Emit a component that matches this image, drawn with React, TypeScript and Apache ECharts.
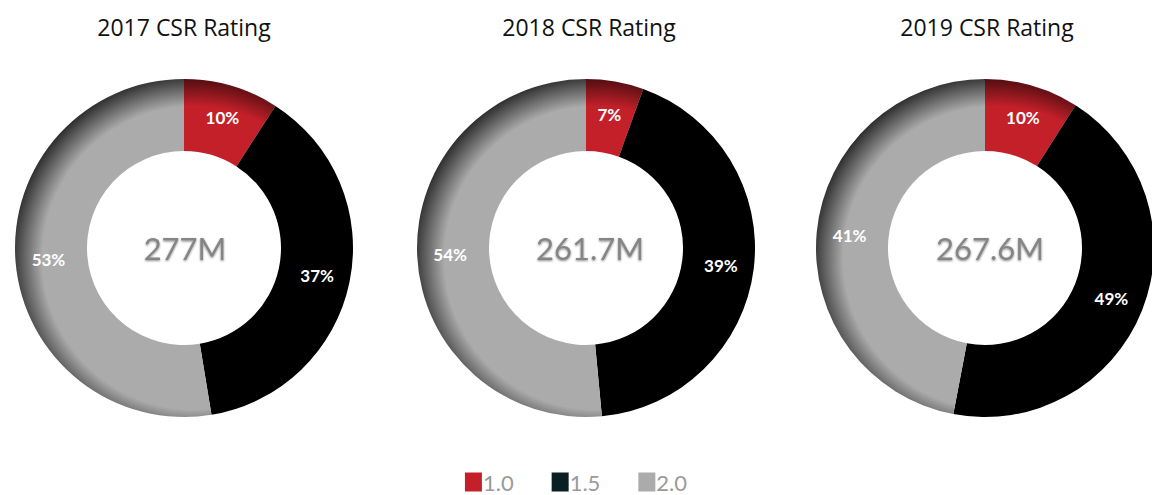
import React, { useEffect, useRef } from "react";
import * as echarts from "echarts";

const categories = ["1.0", "1.5", "2.0"];
const years = ["2017", "2018", "2019"];
const totals = ["277M", "261.7M", "267.6M"];
// printed percentage labels
const labels2017 = ["10%", "37%", "53%"];
const labels2018 = ["7%", "39%", "54%"];
const labels2019 = ["10%", "49%", "41%"];
// slice shares as drawn in the picture
const shares2017 = [9.1, 38.3, 52.6];
const shares2018 = [5.5, 43, 51.5];
const shares2019 = [9, 44, 47];
const allShares = [shares2017, shares2018, shares2019];
const allLabels = [labels2017, labels2018, labels2019];

const baseColors = ["#c3202a", "#000000", "#acabac"];
const legendColors = ["#c3202a", "#0a1f24", "#acabac"];
const darkColors = ["#3a0a0c", "#000000", "#262626"];

const centersX = [184, 586, 985];
const titleX = [179, 584, 982];
const totalX = [180, 585, 985];
const centerY = 248;
const outerR = 169;
const innerR = 97;

function shade(i: number, cx: number, cy: number) {
  if (i === 1) return baseColors[1];
  const d = 10;
  const R = outerR + 16;
  return {
    type: "radial",
    x: cx + d,
    y: cy + d,
    r: R,
    global: true,
    colorStops: [
      { offset: 0, color: baseColors[i] },
      { offset: 0.82, color: baseColors[i] },
      { offset: 1, color: darkColors[i] },
    ],
  } as any;
}

export default function App() {
  const ref = useRef<HTMLDivElement>(null);
  useEffect(() => {
    document.body.style.margin = "0";
    const chart = echarts.init(ref.current!, null, { renderer: "svg" });
    const font = "Lato, 'Noto Sans', sans-serif";
    const option: any = {
      animation: false,
      title: [
        ...years.map((y, k) => ({
          text: `${y} CSR Rating`,
          left: titleX[k],
          top: 10,
          textAlign: "center",
          textStyle: { fontFamily: "'Open Sans', sans-serif", fontSize: 23, fontWeight: "normal", color: "#111" },
        })),
        ...totals.map((t, k) => ({
          text: t,
          left: totalX[k],
          top: centerY - 21,
          textAlign: "center",
          textStyle: {
            fontFamily: font,
            fontSize: 31,
            fontWeight: "normal",
            color: "#858585",
            textShadowColor: "rgba(0,0,0,0.45)",
            textShadowBlur: 2,
            textShadowOffsetX: 0,
            textShadowOffsetY: 1,
          },
        })),
      ],
      legend: {
        top: 471,
        padding: 0,
        left: "center",
        itemWidth: 17,
        itemHeight: 19,
        itemGap: 38,
        icon: "rect",
        textStyle: { fontFamily: font, fontSize: 22, lineHeight: 20, color: "#9a9a9a", padding: [0, 0, 0, -4] },
        data: categories.map((c, i) => ({ name: c, itemStyle: { color: legendColors[i] } })),
      },
      series: allShares.map((vals, k) => ({
        type: "pie",
        center: [centersX[k], centerY],
        radius: [innerR, outerR],
        startAngle: 90,
        clockwise: true,
        avoidLabelOverlap: false,
        label: {
          show: true,
          position: "inside",
          formatter: (p: any) => allLabels[k][p.dataIndex],
          color: "#fff",
          fontFamily: font,
          fontSize: 17,
          fontWeight: "bold",
        },
        labelLine: { show: false },
        emphasis: { disabled: true },
        data: vals.map((v, i) => ({
          name: categories[i],
          value: v,
          itemStyle: { color: shade(i, centersX[k], centerY) },
        })),
      })),
    };
    chart.setOption(option);
    return () => chart.dispose();
  }, []);
  return <div ref={ref} style={{ width: 1152, height: 495 }} />;
}
